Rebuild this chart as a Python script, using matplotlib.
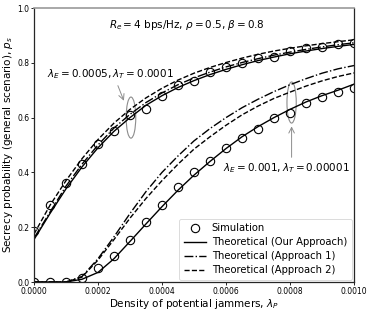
import numpy as np
import matplotlib
matplotlib.use("Agg")
import matplotlib.pyplot as plt
from matplotlib.patches import Ellipse

x_vals = [0.0, 0.00005, 0.0001, 0.00015, 0.0002, 0.00025, 0.0003, 0.00035, 0.0004, 0.00045,
          0.0005, 0.00055, 0.0006, 0.00065, 0.0007, 0.00075, 0.0008, 0.00085, 0.0009, 0.00095, 0.001]

# Upper group: lambda_E = 0.0005, lambda_T = 0.0001
sim_upper = [0.186, 0.28, 0.36, 0.43, 0.505, 0.55, 0.61, 0.63, 0.68, 0.72, 0.733, 0.765, 0.785,
             0.80, 0.817, 0.82, 0.843, 0.854, 0.858, 0.869, 0.872]
our_upper = [0.155, 0.25, 0.34, 0.42, 0.49, 0.55, 0.60, 0.645, 0.68, 0.71, 0.735, 0.757, 0.776,
             0.793, 0.808, 0.821, 0.833, 0.843, 0.852, 0.86, 0.867]
app1_upper = [0.16, 0.255, 0.35, 0.43, 0.50, 0.562, 0.612, 0.655, 0.69, 0.72, 0.745, 0.766, 0.785,
              0.801, 0.815, 0.828, 0.839, 0.849, 0.858, 0.866, 0.873]
app2_upper = [0.175, 0.28, 0.37, 0.45, 0.52, 0.58, 0.63, 0.672, 0.707, 0.737, 0.762, 0.783, 0.801,
              0.817, 0.831, 0.843, 0.853, 0.862, 0.870, 0.877, 0.884]

# Lower group: lambda_E = 0.001, lambda_T = 0.00001
sim_lower = [0.0, 0.0, 0.0, 0.015, 0.05, 0.095, 0.153, 0.22, 0.28, 0.345, 0.40, 0.44, 0.49,
             0.525, 0.558, 0.60, 0.617, 0.653, 0.675, 0.693, 0.708]
our_lower = [0.0, 0.0, 0.0, 0.01, 0.035, 0.085, 0.148, 0.212, 0.275, 0.335, 0.39, 0.44, 0.487,
             0.53, 0.567, 0.60, 0.63, 0.657, 0.68, 0.70, 0.722]
app1_lower = [0.0, 0.0, 0.0, 0.02, 0.085, 0.165, 0.25, 0.33, 0.40, 0.46, 0.515, 0.56, 0.60,
              0.636, 0.667, 0.695, 0.72, 0.742, 0.762, 0.778, 0.79]
app2_lower = [0.0, 0.0, 0.0, 0.018, 0.08, 0.155, 0.233, 0.305, 0.37, 0.43, 0.485, 0.53, 0.572,
              0.61, 0.642, 0.67, 0.693, 0.715, 0.734, 0.75, 0.763]

legend_labels = ["Simulation", "Theoretical (Our Approach)",
                 "Theoretical (Approach 1)", "Theoretical (Approach 2)"]
x_ticks = [0.0, 0.0002, 0.0004, 0.0006, 0.0008, 0.001]
y_ticks = [0.0, 0.2, 0.4, 0.6, 0.8, 1.0]

fig = plt.figure(figsize=(3.74, 3.12), dpi=100)
ax = fig.add_axes([34/374, 30/312, 320/374, 274/312])

lw = 1.0
mk = dict(marker='o', markersize=6, markerfacecolor='none', markeredgecolor='black',
          markeredgewidth=0.8, linestyle='none')
ax.plot(x_vals, sim_upper, label=legend_labels[0], **mk)
ax.plot(x_vals, our_upper, color='black', linestyle='-', lw=lw, label=legend_labels[1])
ax.plot(x_vals, app1_upper, color='black', linestyle='-.', lw=lw, label=legend_labels[2])
ax.plot(x_vals, app2_upper, color='black', linestyle='--', lw=lw, label=legend_labels[3])
ax.plot(x_vals, sim_lower, **mk)
ax.plot(x_vals, our_lower, color='black', linestyle='-', lw=lw)
ax.plot(x_vals, app1_lower, color='black', linestyle='-.', lw=lw)
ax.plot(x_vals, app2_lower, color='black', linestyle='--', lw=lw)

ax.set_xlim(0, 0.001)
ax.set_ylim(0, 1.0)
ax.set_xticks(x_ticks)
ax.set_xticklabels([f"{v:.4f}" for v in x_ticks], fontsize=5.5)
ax.set_yticks(y_ticks)
ax.set_yticklabels([f"{v:.1f}" for v in y_ticks], fontsize=5.5)
ax.tick_params(length=2.5, width=0.6, pad=1.0)
ax.set_xlabel(r"Density of potential jammers, $\lambda_P$", fontsize=7.5, labelpad=0.5)
ax.set_ylabel(r"Secrecy probability (general scenario), $p_s$", fontsize=7.5, labelpad=1.5)

for s in ['left', 'bottom', 'right']:
    ax.spines[s].set_color('0.15')
    ax.spines[s].set_linewidth(0.9)
ax.spines['top'].set_color('0.6')
ax.spines['top'].set_linewidth(1.2)

ax.text(0.000478, 0.937, r"$R_e = 4$ bps/Hz, $\rho = 0.5$, $\beta = 0.8$",
        fontsize=7.5, ha='center', va='center')

# upper annotation
ax.add_patch(Ellipse((0.000303, 0.60), 0.00003, 0.15, fill=False, edgecolor='0.55', lw=0.8))
ax.text(0.00024, 0.76, r"$\lambda_E = 0.0005, \lambda_T = 0.0001$", fontsize=7.5,
        ha='center', va='center')
ax.annotate("", xy=(0.000284, 0.652), xytext=(0.000259, 0.726),
            arrowprops=dict(arrowstyle='->', color='0.55', lw=0.7))

# lower annotation
ax.add_patch(Ellipse((0.000805, 0.655), 0.000029, 0.15, fill=False, edgecolor='0.55', lw=0.8))
ax.text(0.00079, 0.415, r"$\lambda_E = 0.001, \lambda_T = 0.00001$", fontsize=7.5,
        ha='center', va='center')
ax.annotate("", xy=(0.000805, 0.578), xytext=(0.000805, 0.445),
            arrowprops=dict(arrowstyle='->', color='0.55', lw=0.7))

leg = ax.legend(loc='lower right', fontsize=7.2, frameon=True, fancybox=True,
                handlelength=2.2, borderpad=0.45, labelspacing=0.4, handletextpad=0.6,
                borderaxespad=0.25)
leg.get_frame().set_linewidth(0.6)
leg.get_frame().set_edgecolor('0.8')

fig.savefig("out.png", dpi=100)
